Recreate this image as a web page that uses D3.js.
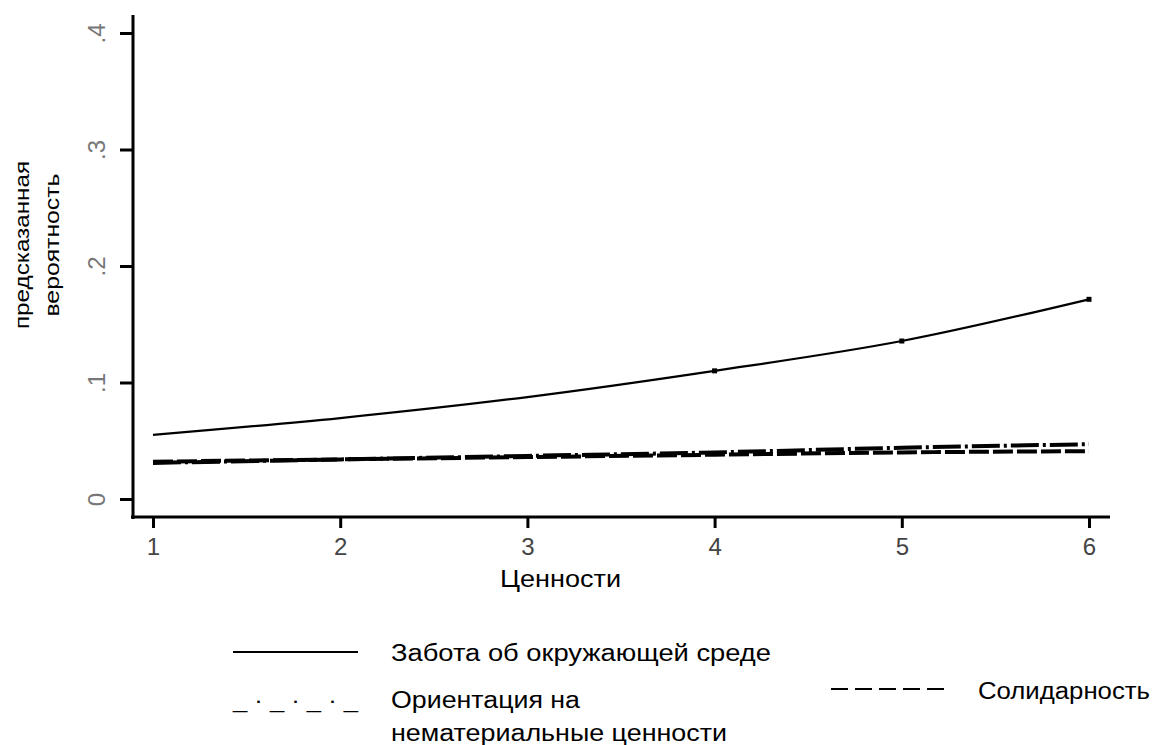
<!DOCTYPE html>
<html>
<head>
<meta charset="utf-8">
<script src="https://cdn.jsdelivr.net/npm/d3@7"></script>
<style>
  body { margin: 0; background: #fff; }
  text { font-family: "Liberation Sans", Arial, sans-serif; }
</style>
</head>
<body>
<svg id="chart" width="1162" height="745"></svg>
<script>
let svg = d3.select("#chart");

// data
let values = [1, 2, 3, 4, 5, 6];
let environment = [0.055, 0.0695, 0.0875, 0.110, 0.1356, 0.1714];
let postmaterial = [0.031, 0.034, 0.037, 0.040, 0.044, 0.047];
let solidarity = [0.032, 0.034, 0.036, 0.038, 0.040, 0.041];
let yTicks = [0, 0.1, 0.2, 0.3, 0.4];

let x = d3.scaleLinear().domain([1, 6]).range([153, 1089]);
let y = d3.scaleLinear().domain([0, 0.4]).range([499, 33]);

// the source font is a bit wider than Liberation Sans, so stretch to the measured widths
function label(g, tx, ty, str, size, len) {
    return g.append('text')
        .attr('x', tx).attr('y', ty)
        .attr('font-size', size)
        .attr('textLength', len)
        .attr('lengthAdjust', 'spacingAndGlyphs')
        .text(str);
}

// axis frame
svg.append('line')
    .attr('x1', 133).attr('x2', 133)
    .attr('y1', 15).attr('y2', 519)
    .attr('stroke', 'black').attr('stroke-width', 3);
svg.append('line')
    .attr('x1', 131).attr('x2', 1110)
    .attr('y1', 517).attr('y2', 517)
    .attr('stroke', 'black').attr('stroke-width', 3);

// y axis
let yAxis = svg.append('g')
    .attr('transform', 'translate(133,0)')
    .call(d3.axisLeft(y).tickValues(yTicks).tickSize(13).tickSizeOuter(0)
        .tickFormat(d => d === 0 ? '0' : '.' + Math.round(d * 10)));
yAxis.select('.domain').remove();
yAxis.selectAll('.tick line').attr('stroke', 'black').attr('stroke-width', 3);
yAxis.selectAll('.tick text')
    .attr('x', null).attr('dy', null)
    .attr('transform', 'translate(-34,0) rotate(-90)')
    .attr('text-anchor', 'middle')
    .attr('dominant-baseline', 'middle')
    .attr('font-size', 24)
    .attr('fill', '#777');

// x axis
let xAxis = svg.append('g')
    .attr('transform', 'translate(0,517)')
    .call(d3.axisBottom(x).tickValues(values).tickSize(11).tickSizeOuter(0)
        .tickFormat(d3.format('d')));
xAxis.select('.domain').remove();
xAxis.selectAll('.tick line').attr('stroke', 'black').attr('stroke-width', 3);
xAxis.selectAll('.tick text')
    .attr('y', 30).attr('dy', '0.35em')
    .attr('font-size', 24)
    .attr('fill', '#444');

// titles
label(svg, 500, 587, 'Ценности', 23, 121);

let yTitle = svg.append('g')
    .attr('transform', 'translate(22,245) rotate(-90)');
yTitle.append('text')
    .attr('text-anchor', 'middle').attr('y', 7)
    .attr('font-size', 21)
    .attr('textLength', 168).attr('lengthAdjust', 'spacingAndGlyphs')
    .text('предсказанная');
yTitle.append('text')
    .attr('text-anchor', 'middle').attr('y', 37)
    .attr('font-size', 21)
    .attr('textLength', 143).attr('lengthAdjust', 'spacingAndGlyphs')
    .text('вероятность');

// lines
let line = d3.line()
    .x((d, i) => x(values[i]))
    .y(d => y(d))
    .curve(d3.curveMonotoneX);

svg.append('path')
    .attr('d', line(solidarity))
    .attr('fill', 'none')
    .attr('stroke', 'black')
    .attr('stroke-width', 4)
    .attr('stroke-dasharray', '20,4');

svg.append('path')
    .attr('d', line(postmaterial))
    .attr('fill', 'none')
    .attr('stroke', 'black')
    .attr('stroke-width', 4)
    .attr('stroke-dasharray', '28,4,3,4');

svg.append('path')
    .attr('d', line(environment))
    .attr('fill', 'none')
    .attr('stroke', 'black')
    .attr('stroke-width', 2.2);

svg.selectAll('.pt')
    .data(environment.slice(3))
    .enter().append('rect')
    .attr('x', (d, i) => x(values[i + 3]) - 2.5)
    .attr('y', d => y(d) - 2.5)
    .attr('width', 5).attr('height', 5)
    .attr('fill', 'black');

// legend
let legend = svg.append('g');
legend.append('line')
    .attr('x1', 233).attr('x2', 358).attr('y1', 652).attr('y2', 652)
    .attr('stroke', 'black').attr('stroke-width', 2);
label(legend, 391, 661, 'Забота об окружающей среде', 23, 380);

label(legend, 233, 708, '_ · _ · _ · _', 22, 125)
    .attr('xml:space', 'preserve');
label(legend, 391, 708, 'Ориентация на', 23, 189);
label(legend, 391, 741, 'нематериальные ценности', 23, 336);

legend.append('line')
    .attr('x1', 831).attr('x2', 945).attr('y1', 689).attr('y2', 689)
    .attr('stroke', 'black').attr('stroke-width', 2)
    .attr('stroke-dasharray', '17,7');
label(legend, 978, 699, 'Солидарность', 23, 172);
</script>
</body>
</html>
